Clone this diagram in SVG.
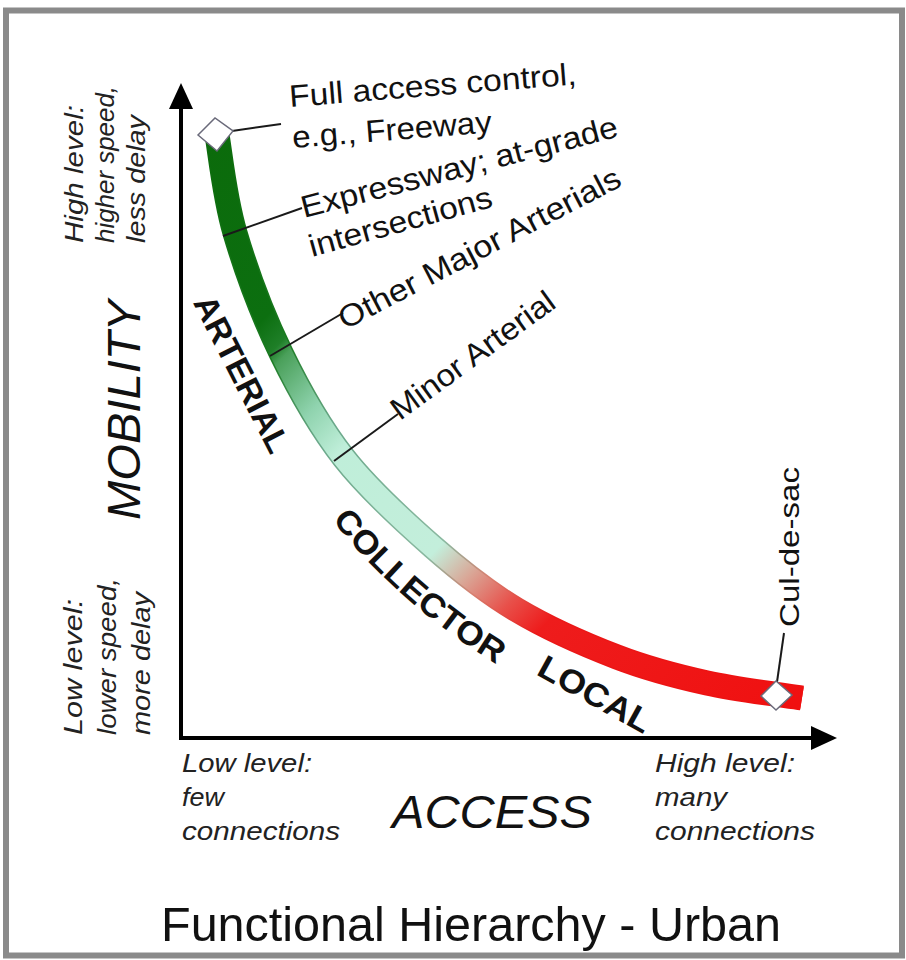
<svg xmlns="http://www.w3.org/2000/svg" width="906" height="960" viewBox="0 0 906 960">
  <defs>
    <linearGradient id="band" gradientUnits="userSpaceOnUse" x1="215" y1="135" x2="800" y2="700">
      <stop offset="0" stop-color="#0b6b0b"/>
      <stop offset="0.20" stop-color="#0c6f10"/>
      <stop offset="0.235" stop-color="#1f7f28"/>
      <stop offset="0.25" stop-color="#4aa05a"/>
      <stop offset="0.32" stop-color="#8fd3ae"/>
      <stop offset="0.38" stop-color="#bfeed9"/>
      <stop offset="0.55" stop-color="#c3eedb"/>
      <stop offset="0.60" stop-color="#d9a898"/>
      <stop offset="0.66" stop-color="#e8504a"/>
      <stop offset="0.71" stop-color="#ee1c1c"/>
      <stop offset="1" stop-color="#f01010"/>
    </linearGradient>
    <linearGradient id="bandEdge" gradientUnits="userSpaceOnUse" x1="215" y1="135" x2="800" y2="700">
      <stop offset="0" stop-color="#0b6b0b"/>
      <stop offset="0.24" stop-color="#1a7a20"/>
      <stop offset="0.35" stop-color="#6aa88a"/>
      <stop offset="0.55" stop-color="#8ab8a0"/>
      <stop offset="0.62" stop-color="#d88070"/>
      <stop offset="0.71" stop-color="#ea1818"/>
      <stop offset="1" stop-color="#ee1010"/>
    </linearGradient>
    <path id="collectorPath" d="M332,520 Q398.5,604 499,666"/>
  </defs>
  <style>
    .lbl { font-family: "Liberation Sans", Arial, sans-serif; fill: #111; }
    .note { font-size: 31px; }
    .it { font-style: italic; font-size: 25px; fill: #222; }
    .big { font-size: 47px; font-style: italic; }
    .road { font-weight: bold; font-size: 33px; }
    .lead { stroke: #1a1a1a; stroke-width: 2; fill: none; }
    .axis { stroke: #000; stroke-width: 4; fill: none; }
    .diamond { fill: #fff; stroke: #6a6a7a; stroke-width: 1.5; }
  </style>

  <rect x="0" y="0" width="906" height="960" fill="#fff"/>
  <g id="frame">
    <rect x="6" y="10.5" width="896" height="945" fill="#fff" stroke="#8a8a8a" stroke-width="6"/>
  </g>

  <g id="curve">
    <path d="M217,135 C220,151.3 224.3,196.7 235,233 C245.7,269.3 262.8,315.5 281,353 C299.2,390.5 318.7,425.7 344,458 C369.3,490.3 404.2,521.7 433,547 C461.8,572.3 486.3,591.7 517,610 C547.7,628.3 585.3,644.8 617,657 C648.7,669.2 676.2,676.2 707,683 C737.8,689.8 786.2,695.5 802,698" fill="none" stroke="url(#bandEdge)" stroke-width="25"/>
    <path d="M217,135 C220,151.3 224.3,196.7 235,233 C245.7,269.3 262.8,315.5 281,353 C299.2,390.5 318.7,425.7 344,458 C369.3,490.3 404.2,521.7 433,547 C461.8,572.3 486.3,591.7 517,610 C547.7,628.3 585.3,644.8 617,657 C648.7,669.2 676.2,676.2 707,683 C737.8,689.8 786.2,695.5 802,698" fill="none" stroke="url(#band)" stroke-width="22"/>
  </g>

  <g id="connectors">
    <line class="axis" x1="181" y1="740" x2="181" y2="104"/>
    <polygon points="181,83 169,109 193,109" fill="#000"/>
    <line class="axis" x1="179" y1="738" x2="814" y2="738"/>
    <polygon points="837,738 811,726 811,750" fill="#000"/>
    <polyline class="lead" points="232,131 281,124"/>
    <polyline class="lead" points="223,236 302,208"/>
    <polyline class="lead" points="270,356 343,313"/>
    <polyline class="lead" points="334,461 398,414"/>
    <polyline class="lead" points="777,682 784,633"/>
  </g>

  <g id="node-freeway">
    <polygon class="diamond" points="198,135 215,118 233,131 217,151"/>
    <text class="lbl note" transform="translate(290,107) rotate(-4.5)" textLength="288" lengthAdjust="spacingAndGlyphs">Full access control,</text>
    <text class="lbl note" transform="translate(293,148) rotate(-4.5)" textLength="200" lengthAdjust="spacingAndGlyphs">e.g., Freeway</text>
  </g>
  <g id="node-expressway">
    <text class="lbl note" transform="translate(304,218) rotate(-14.5)" textLength="326" lengthAdjust="spacingAndGlyphs">Expressway; at-grade</text>
    <text class="lbl note" transform="translate(312,257) rotate(-15.5)" textLength="189" lengthAdjust="spacingAndGlyphs">intersections</text>
  </g>
  <g id="node-major">
    <text class="lbl note" transform="translate(345,330) rotate(-27.5)" textLength="314" lengthAdjust="spacingAndGlyphs">Other Major Arterials</text>
  </g>
  <g id="node-minor">
    <text class="lbl note" transform="translate(400,421) rotate(-36)" textLength="195" lengthAdjust="spacingAndGlyphs">Minor Arterial</text>
  </g>
  <g id="node-culdesac">
    <polygon class="diamond" points="761,696 776,681 792,695 776,710"/>
    <text class="lbl" font-size="27" transform="translate(799,627) rotate(-90)" textLength="160" lengthAdjust="spacingAndGlyphs">Cul-de-sac</text>
  </g>

  <g id="class-labels">
    <text class="lbl road" text-anchor="middle" dy="0.35em" transform="translate(242,374) rotate(63)" textLength="172" lengthAdjust="spacingAndGlyphs">ARTERIAL</text>
    <text class="lbl road" font-size="34"><textPath href="#collectorPath" textLength="220" lengthAdjust="spacingAndGlyphs">COLLECTOR</textPath></text>
    <text class="lbl road" text-anchor="middle" dy="0.35em" transform="translate(595,694) rotate(29)" textLength="124" lengthAdjust="spacingAndGlyphs">LOCAL</text>
  </g>

  <g id="y-axis-labels">
    <text class="lbl it" transform="translate(83,243) rotate(-90)" textLength="138" lengthAdjust="spacingAndGlyphs">High level:</text>
    <text class="lbl it" transform="translate(114,243) rotate(-90)" textLength="157" lengthAdjust="spacingAndGlyphs">higher speed,</text>
    <text class="lbl it" transform="translate(145,243) rotate(-90)" textLength="128" lengthAdjust="spacingAndGlyphs">less delay</text>
    <text class="lbl big" transform="translate(140,520) rotate(-90)" textLength="220" lengthAdjust="spacingAndGlyphs">MOBILITY</text>
    <text class="lbl it" transform="translate(82,735) rotate(-90)" textLength="136" lengthAdjust="spacingAndGlyphs">Low level:</text>
    <text class="lbl it" transform="translate(116,735) rotate(-90)" textLength="157" lengthAdjust="spacingAndGlyphs">lower speed,</text>
    <text class="lbl it" transform="translate(150,735) rotate(-90)" textLength="143" lengthAdjust="spacingAndGlyphs">more delay</text>
  </g>

  <g id="x-axis-labels">
    <text class="lbl it" x="182" y="772" textLength="130" lengthAdjust="spacingAndGlyphs">Low level:</text>
    <text class="lbl it" x="182" y="806" textLength="42" lengthAdjust="spacingAndGlyphs">few</text>
    <text class="lbl it" x="182" y="840" textLength="158" lengthAdjust="spacingAndGlyphs">connections</text>
    <text class="lbl big" x="392" y="828" textLength="200" lengthAdjust="spacingAndGlyphs">ACCESS</text>
    <text class="lbl it" x="655" y="772" textLength="140" lengthAdjust="spacingAndGlyphs">High level:</text>
    <text class="lbl it" x="655" y="806" textLength="72" lengthAdjust="spacingAndGlyphs">many</text>
    <text class="lbl it" x="655" y="840" textLength="160" lengthAdjust="spacingAndGlyphs">connections</text>
  </g>

  <g id="title">
    <text class="lbl" font-size="48" x="161" y="941" textLength="620" lengthAdjust="spacingAndGlyphs">Functional  Hierarchy - Urban</text>
  </g>
</svg>
